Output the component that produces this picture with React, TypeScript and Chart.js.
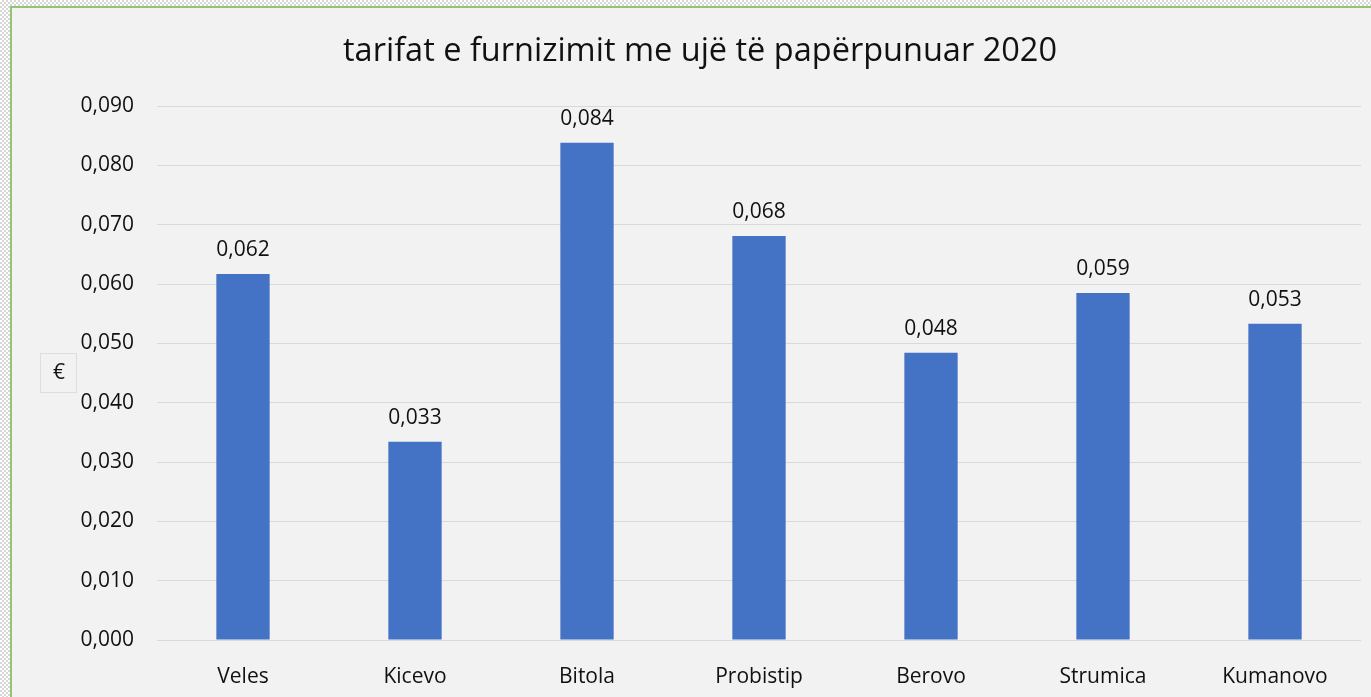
import React, { useEffect, useRef } from "react";
import { Chart, registerables } from "chart.js";

Chart.register(...registerables);

const categories = ["Veles", "Kicevo", "Bitola", "Probistip", "Berovo", "Strumica", "Kumanovo"];
const values = [0.0617, 0.0334, 0.0838, 0.0681, 0.0484, 0.0585, 0.0533];
const titleText = "tarifat e furnizimit me ujë të papërpunuar 2020";
const yAxisLabel = "€";
const yMin = 0;
const yMax = 0.09;
const yStep = 0.01;

const FONT = "'Open Sans', 'Noto Sans', sans-serif";
const fmt = (v: number) => v.toFixed(3).replace(".", ",");

const overlayPlugin = {
  id: "overlay",
  afterDatasetsDraw(chart: any) {
    const ctx = chart.ctx;
    ctx.save();
    const meta = chart.getDatasetMeta(0);
    ctx.fillStyle = "#111";
    ctx.font = `21px ${FONT}`;
    ctx.textAlign = "center";
    ctx.textBaseline = "middle";
    meta.data.forEach((el: any, i: number) => {
      ctx.fillText(fmt(values[i]), el.x, el.y - 24);
    });
    ctx.font = `32.5px ${FONT}`;
    ctx.fillText(titleText, 700, 52);
    ctx.fillStyle = "#f2f2f2";
    ctx.fillRect(40, 353, 37, 40);
    ctx.strokeStyle = "#dedede";
    ctx.lineWidth = 1;
    ctx.strokeRect(40.5, 353.5, 36, 39);
    ctx.fillStyle = "#111";
    ctx.font = `21px ${FONT}`;
    ctx.fillText(yAxisLabel, 59, 373);
    ctx.restore();
  },
};

export default function App() {
  const ref = useRef<HTMLCanvasElement | null>(null);
  useEffect(() => {
    if (!ref.current) return;
    const chart = new Chart(ref.current, {
      type: "bar",
      data: {
        labels: categories,
        datasets: [
          {
            data: values,
            backgroundColor: "#4472c4",
            categoryPercentage: 1,
            barPercentage: 0.31,
          },
        ],
      },
      options: {
        responsive: false,
        animation: false,
        layout: { padding: { left: 0, right: 10, top: 106, bottom: 0 } },
        plugins: {
          legend: { display: false },
          title: { display: false },
          tooltip: { enabled: false },
        },
        scales: {
          x: {
            grid: { display: false },
            border: { display: false },
            ticks: {
              color: "#111",
              font: { family: FONT, size: 21 },
              padding: 16,
              maxRotation: 0,
            },
            afterFit: (s: any) => {
              s.height = 57;
            },
          },
          y: {
            min: yMin,
            max: yMax,
            grid: { color: "#d9d9d9", drawTicks: false, lineWidth: 1 },
            border: { display: false },
            ticks: {
              stepSize: yStep,
              color: "#111",
              font: { family: FONT, size: 21 },
              padding: 23,
              callback: (v: any) => fmt(Number(v)),
            },
            afterFit: (s: any) => {
              s.width = 157;
            },
          },
        },
      },
      plugins: [overlayPlugin],
    });
    return () => chart.destroy();
  }, []);

  return (
    <div
      style={{
        position: "fixed",
        left: 0,
        top: 0,
        width: 1371,
        height: 697,
        overflow: "hidden",
        background: "repeating-conic-gradient(#d6d6d6 0 25%, #ffffff 0 50%) 0 0 / 4px 4px",
      }}
    >
      <div
        style={{
          position: "absolute",
          left: 10,
          top: 6,
          width: 1361,
          height: 691,
          boxSizing: "border-box",
          borderLeft: "2px solid #93c474",
          borderTop: "2px solid #93c474",
          background: "#f2f2f2",
        }}
      />
      <canvas
        ref={ref}
        width={1371}
        height={697}
        style={{ position: "absolute", left: 0, top: 0, width: 1371, height: 697 }}
      />
    </div>
  );
}
